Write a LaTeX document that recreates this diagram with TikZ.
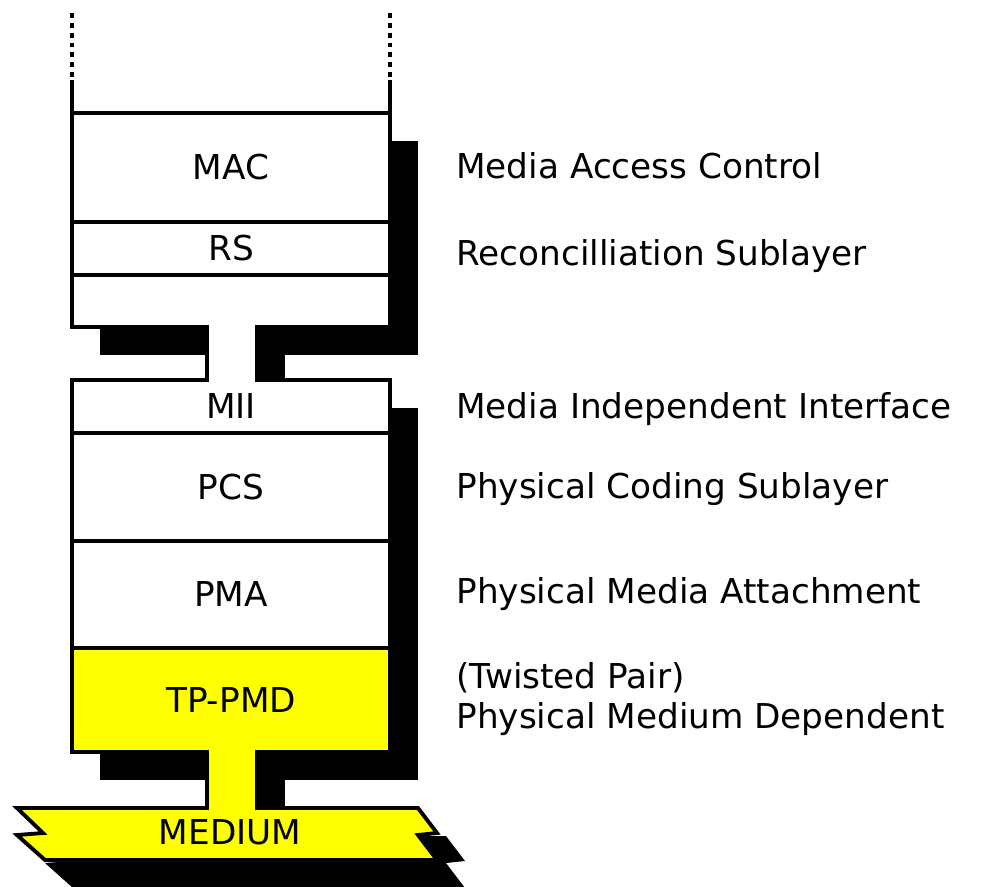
\documentclass[tikz,border=0pt]{standalone}
\usepackage{fontspec}
\setmainfont{DejaVu Sans}
\usepackage{tikz}
\usetikzlibrary{positioning}
\definecolor{pmdyellow}{RGB}{255,255,0}

\begin{document}
\begin{tikzpicture}[x=0.02cm, y=-0.02cm,
  outline/.style={line width=2.2pt, line join=miter},
  shade/.style={fill=black},
  layer/.style={font=\fontsize{19.5}{23}\selectfont, inner sep=0pt},
  desc/.style={font=\fontsize{19.5}{23}\selectfont, anchor=base west, inner sep=0pt}]
  \useasboundingbox (0,0) rectangle (989,886);
  \clip (0,0) rectangle (989,886);
  \fill[white] (0,0) rectangle (989,886);
  % drop shadows (offset 28px)
  \fill[shade] (100,141) rectangle (418,355);
  \fill[shade] (235,355) rectangle (285,408);
  \fill[shade] (100,408) rectangle (418,780);
  \fill[shade] (235,780) rectangle (285,836);
  \fill[shade] (45,836) -- (71,861) -- (45,863) -- (73,888) -- (465,888) -- (446,863) -- (465,861) -- (446,836) -- cycle;
  % faces
  \fill[white] (72,113) rectangle (390,327);
  \fill[white] (207,320) rectangle (257,385);
  \fill[white] (72,380) rectangle (390,648);
  \fill[pmdyellow] (72,648) rectangle (390,752);
  \fill[pmdyellow] (207,745) rectangle (257,815);
  \fill[pmdyellow] (17,808) -- (43,833) -- (17,835) -- (45,860) -- (437,860) -- (418,835) -- (437,833) -- (418,808) -- cycle;
  % outline of the stack
  \draw[outline] (72,80) -- (72,327) -- (207,327) -- (207,380) -- (72,380) -- (72,752)
    -- (207,752) -- (207,808) -- (17,808) -- (43,833) -- (17,835) -- (45,860)
    -- (437,860) -- (418,835) -- (437,833) -- (418,808) -- (257,808) -- (257,752)
    -- (390,752) -- (390,380) -- (257,380) -- (257,327) -- (390,327) -- (390,80);
  \draw[outline, dash pattern=on 2.8pt off 2.8pt] (72,13) -- (72,80);
  \draw[outline, dash pattern=on 2.8pt off 2.8pt] (390,13) -- (390,80);
  % layer borders
  \foreach \y in {113,222,275,433,541,648}
    \draw[outline] (72,\y) -- (390,\y);

  \node[layer] (mac) at (231,167) {MAC};
  \node[layer] (rs) at (231,248) {RS};
  \node[layer] (mii) at (231,406) {MII};
  \node[layer] (pcs) at (231,487) {PCS};
  \node[layer] (pma) at (231,594) {PMA};
  \node[layer] (tppmd) at (231,700) {TP-PMD};
  \node[layer] (medium) at (230,832) {MEDIUM};

  \node[desc] (macdesc) at (456,178) {Media Access Control};
  \node[desc] (rsdesc) at (456,265) {Reconcilliation Sublayer};
  \node[desc] (miidesc) at (456,418) {Media Independent Interface};
  \node[desc] (pcsdesc) at (456,498) {Physical Coding Sublayer};
  \node[desc] (pmadesc) at (456,603) {Physical Media Attachment};
  \node[desc] (tpdesc) at (456,688) {(Twisted Pair)};
  \node[desc] (pmddesc) at (456,728) {Physical Medium Dependent};
\end{tikzpicture}
\end{document}
